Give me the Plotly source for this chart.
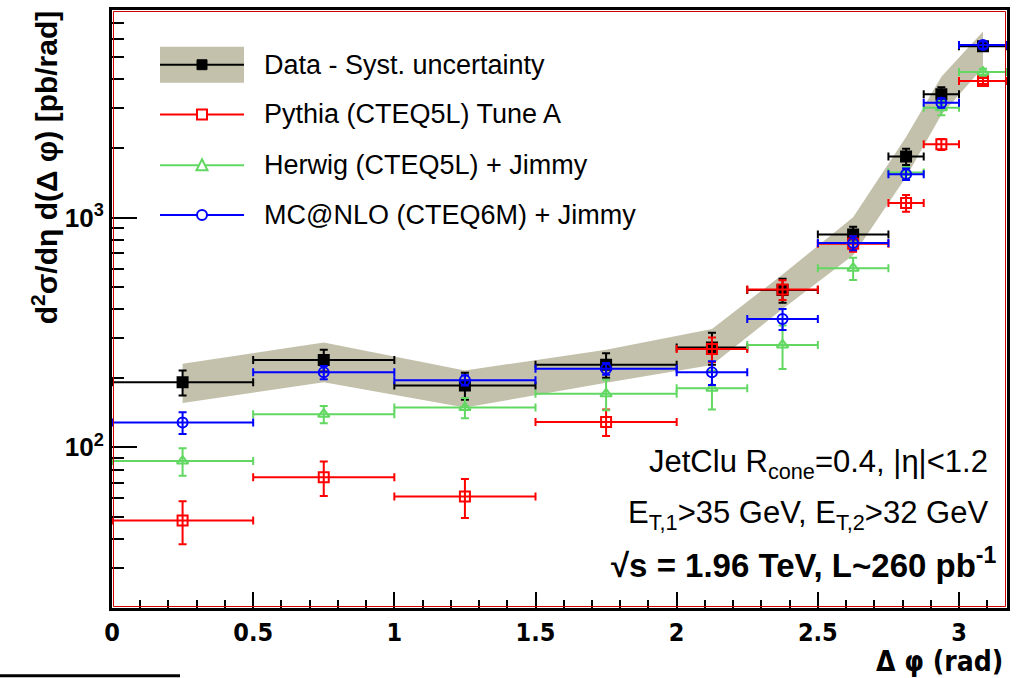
import plotly.graph_objects as go
import math

# ---------------- data ----------------
bin_centers = [0.25, 0.75, 1.25, 1.75, 2.125, 2.375, 2.625, 2.8125, 2.9375, 3.085]
bin_half = [0.25, 0.25, 0.25, 0.25, 0.125, 0.125, 0.125, 0.0625, 0.0625, 0.085]

data_vals = [192, 240, 186, 229, 272, 484, 844, 1843, 3443, 5560]
data_err = [24, 26, 25, 28, 43, 58, 68, 150, 245, 200]
band_upper = [231, 286, 216, 266, 327, 565, 1003, 2240, 4100, 6450]
band_lower = [156, 192, 149, 191, 228, 400, 685, 1500, 2800, 4500]

pythia_vals = [48.1, 74.2, 61.1, 129, 268, 486, 769, 1157, 2083, 3930]
pythia_err = [10.2, 12.7, 11.8, 17, 33, 48, 59, 98, 115, 120]

herwig_vals = [87.2, 139.4, 149, 171, 181, 279, 602, 1571, 3004, 4294]
herwig_err = [12, 12, 15, 26, 35, 60, 67, 90, 215, 150]

mcnlo_vals = [128.3, 212, 196, 220, 212, 362, 775, 1545, 3157, 5640]
mcnlo_err = [14, 14, 10, 13, 25, 38, 55, 90, 150, 200]

legend_labels = ["Data - Syst. uncertainty", "Pythia (CTEQ5L) Tune A",
                 "Herwig (CTEQ5L) + Jimmy", "MC@NLO (CTEQ6M) + Jimmy"]

x_tickvals = [0, 0.5, 1, 1.5, 2, 2.5, 3]
x_ticktext = ["0", "0.5", "1", "1.5", "2", "2.5", "3"]
y_tickvals = [100, 1000]
y_ticktext = ["10<sup>2</sup>", "10<sup>3</sup>"]
y_minor = [v * m for m in (10, 100, 1000) for v in range(2, 10) if 20 <= v * m <= 8000]

# ---------------- style ----------------
BAND = "#C3C1AB"
RED = "#FF0000"
GREEN = "#62D862"
BLUE = "#0000FF"
FONT = "Liberation Sans, Arial, sans-serif"
NARROW = "Liberation Sans Narrow, DejaVu Sans Condensed, Liberation Sans, sans-serif"

W, H = 1018, 678
L, R, T, B = 112, 1007, 7, 608
PW, PH = R - L, B - T


def px2x(p):
    return (p - L) / PW


def px2y(p):
    return (B - p) / PH


fig = go.Figure()

# systematic band
fig.add_trace(go.Scatter(
    x=bin_centers + bin_centers[::-1],
    y=band_upper + band_lower[::-1],
    fill="toself", fillcolor=BAND, line=dict(width=0), mode="lines",
    hoverinfo="skip", showlegend=False))


def series(vals, errs, color, symbol):
    return go.Scatter(
        x=bin_centers, y=vals, mode="markers",
        marker=dict(symbol=symbol, size=10, color=color,
                    line=dict(color=color, width=2)),
        error_x=dict(type="data", array=bin_half, color=color, thickness=2, width=4),
        error_y=dict(type="data", array=errs, color=color, thickness=2, width=4),
        showlegend=False)


fig.add_trace(series(data_vals, data_err, "black", "square"))
fig.add_trace(series(pythia_vals, pythia_err, RED, "square-open"))
fig.add_trace(series(herwig_vals, herwig_err, GREEN, "triangle-up-open"))
fig.add_trace(series(mcnlo_vals, mcnlo_err, BLUE, "circle-open"))

shapes = []
annotations = []

# frame: red thin inner line
shapes.append(dict(type="rect", xref="paper", yref="paper",
                   x0=px2x(L + 1.5), x1=px2x(R - 1.5), y0=px2y(B - 1.5), y1=px2y(T + 1.5),
                   line=dict(color="#CC0000", width=1), layer="above"))

# stray line at bottom-left
shapes.append(dict(type="line", xref="paper", yref="paper",
                   x0=px2x(0), x1=px2x(180), y0=px2y(676), y1=px2y(676),
                   line=dict(color="black", width=3)))

# ---------------- manual legend ----------------
leg_rows = [62, 112, 163, 213]
leg_colors = ["black", RED, GREEN, BLUE]
sx0, sx1, mx = 160, 244, 202
shapes.append(dict(type="rect", xref="paper", yref="paper",
                   x0=px2x(sx0), x1=px2x(sx1), y0=px2y(80), y1=px2y(44),
                   fillcolor=BAND, line=dict(width=0)))
for yy, col in zip(leg_rows, leg_colors):
    shapes.append(dict(type="line", xref="paper", yref="paper",
                       x0=px2x(sx0), x1=px2x(sx1), y0=px2y(yy), y1=px2y(yy),
                       line=dict(color=col, width=2)))
s = 5
shapes.append(dict(type="rect", xref="paper", yref="paper",
                   x0=px2x(mx - s), x1=px2x(mx + s), y0=px2y(leg_rows[0] + s), y1=px2y(leg_rows[0] - s),
                   fillcolor="black", line=dict(color="black", width=1)))
shapes.append(dict(type="rect", xref="paper", yref="paper",
                   x0=px2x(mx - s), x1=px2x(mx + s), y0=px2y(leg_rows[1] + s), y1=px2y(leg_rows[1] - s),
                   fillcolor="white", line=dict(color=RED, width=2)))
ty = leg_rows[2]
shapes.append(dict(type="path", xref="paper", yref="paper",
                   path="M {:.5f},{:.5f} L {:.5f},{:.5f} L {:.5f},{:.5f} Z".format(
                       px2x(mx - 5.5), px2y(ty + 5), px2x(mx + 5.5), px2y(ty + 5), px2x(mx), px2y(ty - 6)),
                   fillcolor="white", line=dict(color=GREEN, width=2)))
shapes.append(dict(type="circle", xref="paper", yref="paper",
                   x0=px2x(mx - s), x1=px2x(mx + s), y0=px2y(leg_rows[3] + s), y1=px2y(leg_rows[3] - s),
                   fillcolor="white", line=dict(color=BLUE, width=2)))
for yy, lab in zip(leg_rows, legend_labels):
    annotations.append(dict(xref="paper", yref="paper", x=px2x(262), y=px2y(yy),
                            xanchor="left", yanchor="middle", text=lab, showarrow=False,
                            font=dict(family=FONT, size=27, color="black")))

# ---------------- text annotations ----------------
annotations.append(dict(xref="paper", yref="paper", x=px2x(990), y=px2y(463),
                        xanchor="right", yanchor="middle", showarrow=False,
                        text="JetClu R<sub>cone</sub>=0.4, |η|&lt;1.2",
                        font=dict(family=FONT, size=31, color="black")))
annotations.append(dict(xref="paper", yref="paper", x=px2x(990), y=px2y(515),
                        xanchor="right", yanchor="middle", showarrow=False,
                        text="E<sub>T,1</sub>&gt;35 GeV, E<sub>T,2</sub>&gt;32 GeV",
                        font=dict(family=FONT, size=31, color="black")))
annotations.append(dict(xref="paper", yref="paper", x=px2x(999), y=px2y(563),
                        xanchor="right", yanchor="middle", showarrow=False,
                        text="<b>√s = 1.96 TeV, L~260 pb<sup>-1</sup></b>",
                        font=dict(family=FONT, size=33, color="black")))

# axis titles
annotations.append(dict(xref="paper", yref="paper", x=px2x(45), y=px2y(165),
                        xanchor="center", yanchor="middle", showarrow=False, textangle=-90,
                        text="<b>d<sup>2</sup>σ/dη d(Δ φ) [pb/rad]</b>",
                        font=dict(family=FONT, size=30, color="black")))
annotations.append(dict(xref="paper", yref="paper", x=px2x(1005), y=px2y(662),
                        xanchor="right", yanchor="middle", showarrow=False,
                        text="<b>Δ φ (rad)</b>",
                        font=dict(family=NARROW, size=28, color="black")))

fig.update_layout(
    width=W, height=H,
    margin=dict(l=L, r=W - R, t=T, b=H - B),
    paper_bgcolor="white", plot_bgcolor="white",
    showlegend=False,
    shapes=shapes, annotations=annotations,
    xaxis=dict(range=[0, 3.17], tickvals=x_tickvals, ticktext=x_ticktext,
               ticks="inside", ticklen=16, tickwidth=2, tickcolor="black",
               minor=dict(dtick=0.1, ticks="inside", ticklen=8, tickwidth=2, tickcolor="black"),
               showline=True, linecolor="black", linewidth=3, mirror=True,
               showgrid=False, zeroline=False,
               tickfont=dict(family=NARROW, size=25, color="black", weight="bold")),
    yaxis=dict(type="log", range=[math.log10(20), math.log10(8000)],
               tickvals=y_tickvals, ticktext=y_ticktext,
               ticks="inside", ticklen=25, tickwidth=2, tickcolor="black",
               minor=dict(tickvals=y_minor, ticks="inside", ticklen=12, tickwidth=2, tickcolor="black"),
               showline=True, linecolor="black", linewidth=3, mirror=True,
               showgrid=False, zeroline=False,
               tickfont=dict(family=FONT, size=26, color="black", weight="bold")),
)

fig.write_html("out.html", config={"displayModeBar": False},
               post_script="document.body.style.margin='0';")
